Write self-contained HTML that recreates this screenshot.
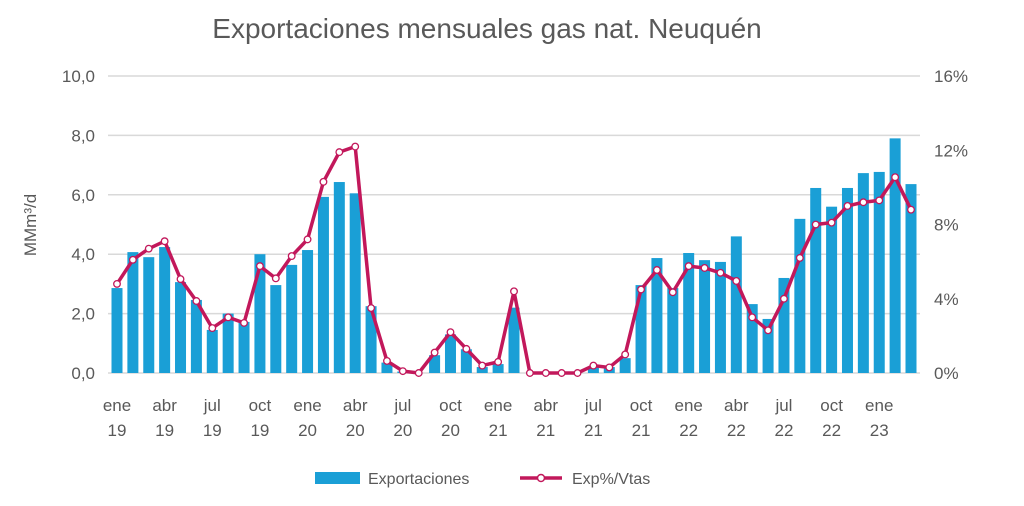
<!DOCTYPE html>
<html><head><meta charset="utf-8"><style>
html,body{margin:0;padding:0;background:#fff;}
svg{display:block;font-family:"Liberation Sans",sans-serif;}
</style></head><body>
<svg id="c" width="1024" height="506" viewBox="0 0 1024 506" xmlns="http://www.w3.org/2000/svg">
<rect width="1024" height="506" fill="#fff"/>
<text x="487" y="38" text-anchor="middle" font-size="28" fill="#595959">Exportaciones mensuales gas nat. Neuquén</text>
<g id="grid" stroke="#d9d9d9" stroke-width="1.5"></g>
<g id="bars" fill="#1a9fd6"></g>
<g id="line"></g>
<g id="lab" font-size="17" fill="#595959"></g>
<text transform="translate(36,225) rotate(-90)" text-anchor="middle" font-size="17" fill="#595959">MMm³/d</text>
<rect x="315" y="472" width="45" height="12" fill="#1a9fd6"/>
<text x="368" y="484" font-size="16" fill="#595959">Exportaciones</text>
<line x1="520" y1="478" x2="562" y2="478" stroke="#c2185b" stroke-width="3.5"/>
<circle cx="541" cy="478" r="3.5" fill="#fff" stroke="#c2185b" stroke-width="1.5"/>
<text x="572" y="484" font-size="16" fill="#595959">Exp%/Vtas</text>
</svg>
<script>
const NS="http://www.w3.org/2000/svg";
function el(t,a,p){const e=document.createElementNS(NS,t);for(const k in a)e.setAttribute(k,a[k]);document.getElementById(p).appendChild(e);return e;}
const bars=[2.86,4.07,3.9,4.24,3.06,2.46,1.45,2.0,1.72,4.0,2.96,3.64,4.14,5.93,6.43,6.05,2.25,0.35,0.05,0,0.6,1.3,0.8,0.2,0.3,2.2,0,0,0,0,0.2,0.2,0.5,2.96,3.87,2.86,4.04,3.8,3.74,4.6,2.32,1.82,3.2,5.19,6.23,5.6,6.23,6.73,6.77,7.9,6.36];
const pct=[4.8,6.1,6.7,7.1,5.06,3.88,2.42,3.0,2.7,5.76,5.1,6.3,7.2,10.3,11.9,12.2,3.5,0.65,0.1,0,1.1,2.2,1.3,0.4,0.6,4.4,0,0,0,0,0.4,0.3,1.0,4.5,5.55,4.35,5.76,5.66,5.4,4.96,3.0,2.3,4.0,6.2,8.0,8.1,9.0,9.2,9.3,10.55,8.8];
const y0=373,uv=29.7,up=18.56,x0=117,dx=15.88;
[0,2,4,6,8,10].forEach(v=>{const y=y0-v*uv;el('line',{x1:108,x2:920,y1:y,y2:y},'grid');
el('text',{x:95,y:y+6,'text-anchor':'end'},'lab').textContent=v.toFixed(1).replace('.',',');});
[0,4,8,12,16].forEach(p=>{const y=y0-p*up;el('text',{x:934,y:y+6},'lab').textContent=p+'%';});
bars.forEach((v,i)=>{const x=x0+i*dx;if(v>0)el('rect',{x:x-5.5,y:y0-v*uv,width:11,height:v*uv},'bars');});
const pts=pct.map((v,i)=>(x0+i*dx)+','+(y0-v*up)).join(' ');
el('polyline',{points:pts,fill:'none',stroke:'#c2185b','stroke-width':3.5,'stroke-linejoin':'round'},'line');
pct.forEach((v,i)=>el('circle',{cx:x0+i*dx,cy:y0-v*up,r:3.3,fill:'#fff',stroke:'#c2185b','stroke-width':1.3},'line'));
const m=['ene','abr','jul','oct'];
for(let i=0;i<51;i+=3){const x=x0+i*dx;el('text',{x:x,y:411,'text-anchor':'middle'},'lab').textContent=m[(i/3)%4];
el('text',{x:x,y:436,'text-anchor':'middle'},'lab').textContent=String(19+Math.floor(i/12));}
</script>
</body></html>
